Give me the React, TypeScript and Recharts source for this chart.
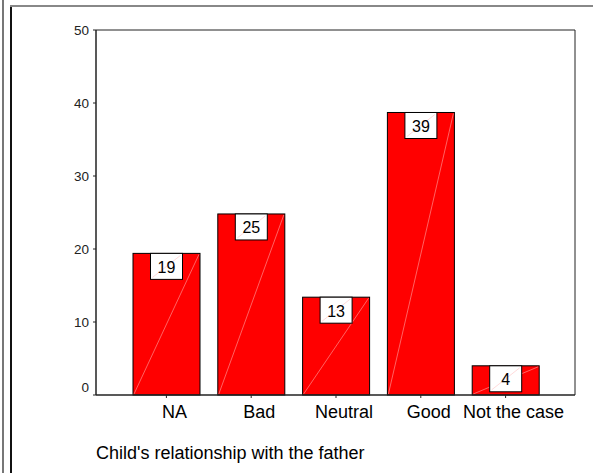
import React from 'react'
import { BarChart, Bar, XAxis, YAxis, LabelList, ReferenceLine } from 'recharts'

const categories = ['NA', 'Bad', 'Neutral', 'Good', 'Not the case']
const percents = [19.4, 24.8, 13.4, 38.7, 4.0]
const yTicks = [0, 10, 20, 30, 40, 50]

const data = categories.map((c, i) => ({ name: c, value: percents[i] }))

const FONT = '"Liberation Sans", Arial, sans-serif'

function BarShape(props: any) {
  const { x, y, width, height } = props
  return (
    <g>
      <rect x={x} y={y} width={width} height={height} fill="#FF0000" stroke="#000" strokeWidth={1} />
      <line x1={x + 1} y1={y + height - 1} x2={x + width - 1} y2={y + 1} stroke="rgba(255,200,200,0.7)" strokeWidth={0.7} />
    </g>
  )
}

function ValueBox(props: any) {
  const { x, y, width, value } = props
  const bw = 32
  const bh = 26
  const bx = x + width / 2 - bw / 2
  return (
    <g>
      <rect x={bx} y={y} width={bw} height={bh} fill="#fff" stroke="#000" strokeWidth={1} />
      <line x1={bx + 2} y1={y + bh - 2} x2={bx + bw - 2} y2={y + 2} stroke="rgba(255,150,150,0.6)" strokeWidth={0.6} />
      <text x={x + width / 2} y={y + 14} textAnchor="middle" dominantBaseline="central" fontFamily={FONT} fontSize={16} fill="#000">
        {Math.round(value)}
      </text>
    </g>
  )
}

function YTick(props: any) {
  const { x, y, payload } = props
  const dy = payload.value === 0 ? -8 : 0
  return (
    <text x={x} y={y + dy} textAnchor="end" dominantBaseline="central" fontFamily={FONT} fontSize={13.5} fill="#222">
      {payload.value}
    </text>
  )
}

function XTick(props: any) {
  const { x, y, payload } = props
  return (
    <text x={x + 8} y={y + 10} textAnchor="middle" dominantBaseline="central" fontFamily={FONT} fontSize={18} fill="#000">
      {payload.value}
    </text>
  )
}

export default function App() {
  return (
    <div style={{ position: 'absolute', left: 0, top: 0, width: 593, height: 473, background: '#fff' }}>
      <div style={{ position: 'absolute', left: 2, top: 0, width: 2, height: 473, background: '#777' }} />
      <div style={{ position: 'absolute', left: 10, top: 5, width: 2, height: 468, background: '#111' }} />
      <div style={{ position: 'absolute', left: 10, top: 5, width: 583, height: 2, background: '#888' }} />
      <BarChart
        width={593}
        height={473}
        data={data}
        margin={{ top: 30, right: 17, left: 56, bottom: 0 }}
        style={{ position: 'absolute', left: 0, top: 0 }}
      >
        <XAxis
          dataKey="name"
          padding={{ left: 28, right: 27 }}
          height={78}
          axisLine={{ stroke: '#222', strokeWidth: 1.5 }}
          tickLine={{ stroke: '#222' }}
          tickSize={3}
          tickMargin={4}
          interval={0}
          tick={<XTick />}
        />
        <YAxis
          domain={[0, 50]}
          ticks={yTicks}
          width={40}
          axisLine={{ stroke: '#222', strokeWidth: 1.5 }}
          tickLine={{ stroke: '#222' }}
          tickSize={3}
          tickMargin={4}
          tick={<YTick />}
        />
        <YAxis
          yAxisId="r"
          orientation="right"
          domain={[0, 50]}
          width={1}
          tick={false}
          axisLine={{ stroke: '#222', strokeWidth: 1 }}
          tickLine={false}
        />
        <ReferenceLine y={50} stroke="#222" strokeWidth={1} />
        <Bar dataKey="value" barSize={67} shape={<BarShape />} isAnimationActive={false}>
          <LabelList dataKey="value" content={<ValueBox />} />
        </Bar>
      </BarChart>
      <div style={{ position: 'absolute', left: 96, top: 443, fontFamily: FONT, fontSize: 18, color: '#000', whiteSpace: 'nowrap' }}>
        Child's relationship with the father
      </div>
    </div>
  )
}
